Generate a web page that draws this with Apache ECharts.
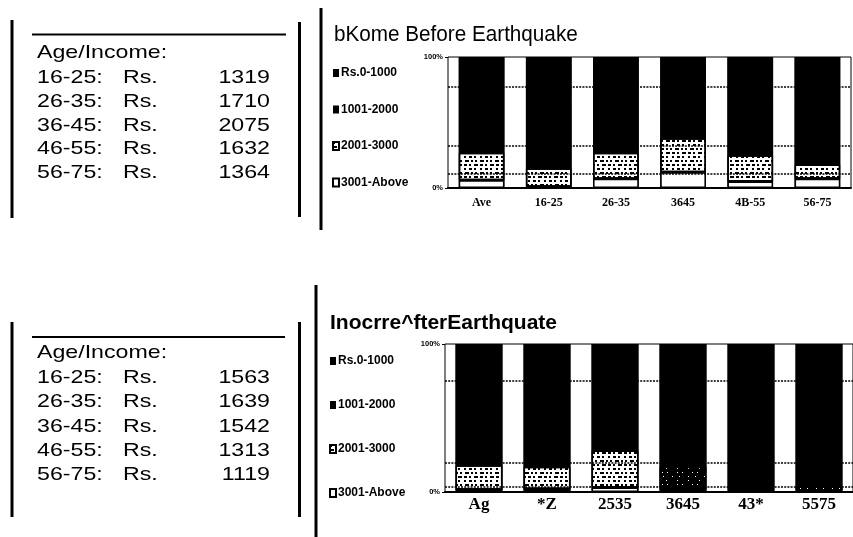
<!DOCTYPE html>
<html><head><meta charset="utf-8">
<script src="https://cdn.jsdelivr.net/npm/echarts@6/dist/echarts.min.js"></script>
<style>html,body{margin:0;padding:0;background:#fff}#c{width:853px;height:537px}</style>
</head><body><div id="c"></div>
<script>
// ---------- data ----------
const seriesNames = ['Rs.0-1000', '1001-2000', '2001-3000', '3001-Above'];

const titleBefore = 'bKome Before Earthquake';
const beforeCategories = ['Ave', '16-25', '26-35', '3645', '4B-55', '56-75'];
const before0to1000    = [28, 35, 28, 22, 30, 35];
const before1001to2000 = [45, 50, 45, 40, 45, 47];
const before2001to3000 = [21, 14, 20, 26, 20, 11];
const before3001Above  = [6, 1, 7, 12, 5, 7];
const beforeGuideLevels = [77, 32, 10.5];

const titleAfter = 'Inocrre^fterEarthquate';
const afterCategories = ['Ag', '*Z', '2535', '3645', '43*', '5575'];
const after0to1000    = [34, 35, 28, 35, 48, 46];
const after1001to2000 = [48, 48, 44, 48, 50, 50];
const after2001to3000 = [16.5, 15, 25, 15, 0.5, 3];
const after3001Above  = [1.5, 2, 3, 2, 1.5, 1];
const afterGuideLevels = [75, 19.5, 3.5];

const yTickLabels = ['0%', '100%'];

const tableHeader = 'Age/Income:';
const ageGroups = ['16-25:', '26-35:', '36-45:', '46-55:', '56-75:'];
const currencyLabel = 'Rs.';
const incomeBefore = [1319, 1710, 2075, 1632, 1364];
const incomeAfter  = [1563, 1639, 1542, 1313, 1119];

// ---------- styles / layout ----------
const speckleDecal = {
  symbol: 'rect', symbolSize: 1, color: '#000',
  dashArrayX: [[3, 2, 2, 3, 4, 2], [2, 3, 3, 2, 2, 4], [4, 2, 2, 2, 2, 3]],
  dashArrayY: [2, 1.5], rotation: 0
};
const sparseDecal = {
  symbol: 'rect', symbolSize: 1, color: '#fff',
  dashArrayX: [[1, 6, 1, 8], [1, 10], [1, 4, 1, 9]],
  dashArrayY: [1, 3]
};
const afterSparseIdx = [3, 5];

const panels = [
  { grid: { left: 448, top: 57, width: 403, height: 131 }, barWidth: '68%',
    labelSize: 12, labelMargin: 9,
    legend: { left: 327, top: 62, itemGap: 24.5 } },
  { grid: { left: 445, top: 344, width: 410, height: 148 }, barWidth: '69%',
    labelSize: 17, labelMargin: 4,
    legend: { left: 324, top: 350, itemGap: 32 } }
];

function buildPanelSeries(pi, guide, stacks, sparse) {
  const out = [];
  out.push({
    type: 'line', xAxisIndex: pi, yAxisIndex: pi, data: [], z: 1, silent: true,
    markLine: {
      symbol: 'none', silent: true, label: { show: false },
      lineStyle: { color: '#000', type: [2, 1.2], width: 1.5 },
      data: guide.map(v => ({ yAxis: v }))
    }
  });
  const order = [3, 2, 1, 0]; // bottom -> top
  order.forEach((k, n) => {
    const isSpeckle = k === 2;
    const isBlack = k === 0 || k === 1;
    const base = isBlack ? '#000' : '#fff';
    const data = stacks[k].map((v, i) => {
      if (isSpeckle && sparse.indexOf(i) >= 0) {
        return { value: v, itemStyle: { color: '#000', decal: sparseDecal } };
      }
      return v;
    });
    const itemStyle = { color: base, borderColor: '#000', borderWidth: isBlack ? 0 : 1.5 };
    if (isSpeckle) itemStyle.decal = speckleDecal;
    const s = {
      type: 'bar', name: seriesNames[k], stack: 'p' + pi,
      xAxisIndex: pi, yAxisIndex: pi, z: 2,
      barWidth: panels[pi].barWidth,
      itemStyle: itemStyle,
      emphasis: { disabled: true },
      data: data
    };
    if (n === 0) {
      s.showBackground = true;
      s.backgroundStyle = { color: '#000' };
    }
    out.push(s);
  });
  return out;
}

const series = [].concat(
  buildPanelSeries(0, beforeGuideLevels,
    [before0to1000, before1001to2000, before2001to3000, before3001Above], []),
  buildPanelSeries(1, afterGuideLevels,
    [after0to1000, after1001to2000, after2001to3000, after3001Above], afterSparseIdx)
);

const allCats = [beforeCategories, afterCategories];

const xAxes = panels.map((p, i) => ({
  type: 'category', gridIndex: i, data: allCats[i], boundaryGap: true,
  axisLine: { lineStyle: { color: '#000', width: 2 } },
  axisTick: { show: false },
  axisLabel: { color: '#000', fontFamily: 'Liberation Serif', fontWeight: 'bold',
               fontSize: p.labelSize, margin: p.labelMargin, interval: 0 }
}));
const yAxes = panels.map((p, i) => ({
  type: 'value', gridIndex: i, min: 0, max: 100, interval: 100,
  splitLine: { show: false },
  axisLine: { show: false },
  axisTick: { show: true, length: 3, lineStyle: { color: '#000' } },
  axisLabel: { color: '#000', fontSize: 7.5, fontWeight: 'bold', fontFamily: 'Liberation Sans',
               margin: 5, formatter: v => (v === 0 ? yTickLabels[0] : yTickLabels[1]) }
}));

const legendOrder = seriesNames.slice();
const legends = panels.map(p => ({
  orient: 'vertical', left: p.legend.left, top: p.legend.top,
  itemWidth: 6, itemHeight: 8, itemGap: p.legend.itemGap, icon: 'rect',
  selectedMode: false, data: legendOrder,
  textStyle: { color: '#000', fontSize: 12, fontWeight: 'bold', fontFamily: 'Liberation Sans',
               lineHeight: 12, padding: [0, 0, 0, -3] }
}));

// tables & decorations
const tableFont = 'normal 19px "Liberation Sans", Arial';
const tableScale = 1.22;
function tableGraphics(top, step, values) {
  const g = [];
  g.push({ type: 'text', x: 37, y: top.header, scaleX: tableScale,
           style: { text: tableHeader, font: tableFont, fill: '#000', textVerticalAlign: 'middle' } });
  ageGroups.forEach((a, i) => {
    const y = top.rows + step * i;
    g.push({ type: 'text', x: 37, y: y, scaleX: tableScale,
             style: { text: a, font: tableFont, fill: '#000', textVerticalAlign: 'middle' } });
    g.push({ type: 'text', x: 123, y: y, scaleX: tableScale,
             style: { text: currencyLabel, font: tableFont, fill: '#000', textVerticalAlign: 'middle' } });
    g.push({ type: 'text', x: 270, y: y, scaleX: tableScale,
             style: { text: String(values[i]), font: tableFont, fill: '#000',
                      textAlign: 'right', textVerticalAlign: 'middle' } });
  });
  return g;
}
function rect(x, y, w, h) {
  return { type: 'rect', shape: { x, y, width: w, height: h }, style: { fill: '#000' }, silent: true };
}

const graphics = [].concat(
  [rect(10.5, 20, 3, 198), rect(298, 22, 3, 195), rect(32, 33.5, 254, 2), rect(319.5, 8, 3, 222),
   rect(10.5, 322, 3, 195), rect(298, 322, 3, 195), rect(32, 336, 253, 2), rect(314.5, 285, 3, 252)],
  tableGraphics({ header: 53, rows: 78 }, 23.7, incomeBefore),
  tableGraphics({ header: 353, rows: 378 }, 24.2, incomeAfter),
  [
    { type: 'text', x: 334, y: 35, scaleX: 0.94,
      style: { text: titleBefore, font: 'normal 22px "Liberation Sans", Arial', fill: '#000', textVerticalAlign: 'middle' } },
    { type: 'text', x: 330, y: 323, scaleX: 1.0,
      style: { text: titleAfter, font: 'bold 21px "Liberation Sans", Arial', fill: '#000', textVerticalAlign: 'middle' } }
  ]
);

const chart = echarts.init(document.getElementById('c'), null, { renderer: 'canvas' });
chart.setOption({
  backgroundColor: '#fff',
  animation: false,
  grid: panels.map(p => Object.assign({ show: true, borderColor: '#000', borderWidth: 1, backgroundColor: 'transparent' }, p.grid)),
  xAxis: xAxes,
  yAxis: yAxes,
  legend: legends,
  series: series,
  graphic: graphics
});
</script></body></html>
